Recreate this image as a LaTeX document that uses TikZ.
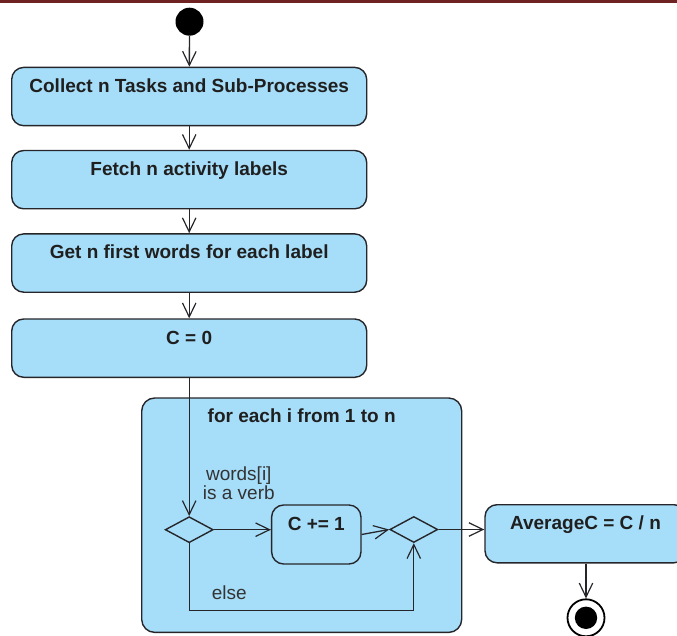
\documentclass[tikz,border=0pt]{standalone}
\usepackage{fontspec}
\setmainfont{Liberation Sans}
\usetikzlibrary{arrows.meta,shapes.geometric}
\definecolor{actfill}{RGB}{166,222,250}
\definecolor{actline}{RGB}{38,38,42}
\definecolor{topbar}{RGB}{110,34,34}
\begin{document}
\begin{tikzpicture}[x=1pt,y=-1pt,
  act/.style={draw=actline,fill=actfill,line width=1.4pt,rounded corners=12pt,
    font=\bfseries\fontsize{19}{22}\selectfont,text=black!88,anchor=north,
    minimum width=355pt,text height=13.6pt,text depth=21.9pt,inner ysep=11.4pt},
  dec/.style={diamond,draw=actline,fill=actfill,line width=1.4pt,inner sep=0pt,
    minimum width=48pt,minimum height=26pt},
  arr/.style={draw=actline,line width=1.3pt,-{Straight Barb[length=14pt,width=13.5pt,line width=1.2pt]}},
  guard/.style={font=\fontsize{19}{18.6}\selectfont,text=black!80,inner sep=0pt}]
\useasboundingbox (0,0) rectangle (677,636);
\fill[topbar] (0,0) rectangle (677,3.3);
\node[circle,fill=black,minimum size=28pt,inner sep=0pt] (start) at (189.5,21.7) {};
\node[act] (collect) at (189.2,66.7) {Collect n Tasks and Sub-Processes};
\node[act] (fetch) at (189.2,149.8) {Fetch n activity labels};
\node[act] (first) at (189.2,233.2) {Get n first words for each label};
\node[act] (czero) at (189.2,318.3) {C = 0};
\node[act,rounded corners=13pt,minimum width=320pt,text depth=198.6pt,inner ysep=11.1pt] (loop) at (301.7,397.3) {for each i from 1 to n};
\node[dec] (verb) at (189.2,529.7) {};
\node[dec] (merge) at (413.8,529.5) {};
\node[act,minimum width=89.3pt,text depth=22.6pt] (cplus) at (316.3,504.3) {C += 1};
\node[act,minimum width=201pt,text depth=21.7pt] (avg) at (585.5,504) {AverageC = C / n};
\node[circle,draw=black,fill=white,line width=1.8pt,minimum size=37pt,inner sep=0pt] (stop) at (586,617.8) {};
\node[circle,fill=black,minimum size=22.4pt,inner sep=0pt] at (stop) {};
\node[guard,align=center,anchor=base] (isverb) at (238.8,499.3) {words[i]\\is a verb};
\node[guard,anchor=base west] (elsetxt) at (211.7,599) {else};
\coordinate (elsecorner) at (189.2,610.7);
\draw[arr] (start) -- (collect);
\draw[arr] (collect) -- (fetch);
\draw[arr] (fetch) -- (first);
\draw[arr] (first) -- (czero);
\draw[arr] (czero) -- (verb);
\draw[arr] (verb.east) -- (verb.east -| cplus.west);
\draw[arr] (cplus.east) -- (merge.west);
\draw[arr] (verb.south) -- (elsecorner) -| (merge.south);
\draw[arr] (merge.east) -- (merge.east -| avg.west);
\draw[arr] (avg.south -| stop.north) -- (stop.north);
\end{tikzpicture}
\end{document}
